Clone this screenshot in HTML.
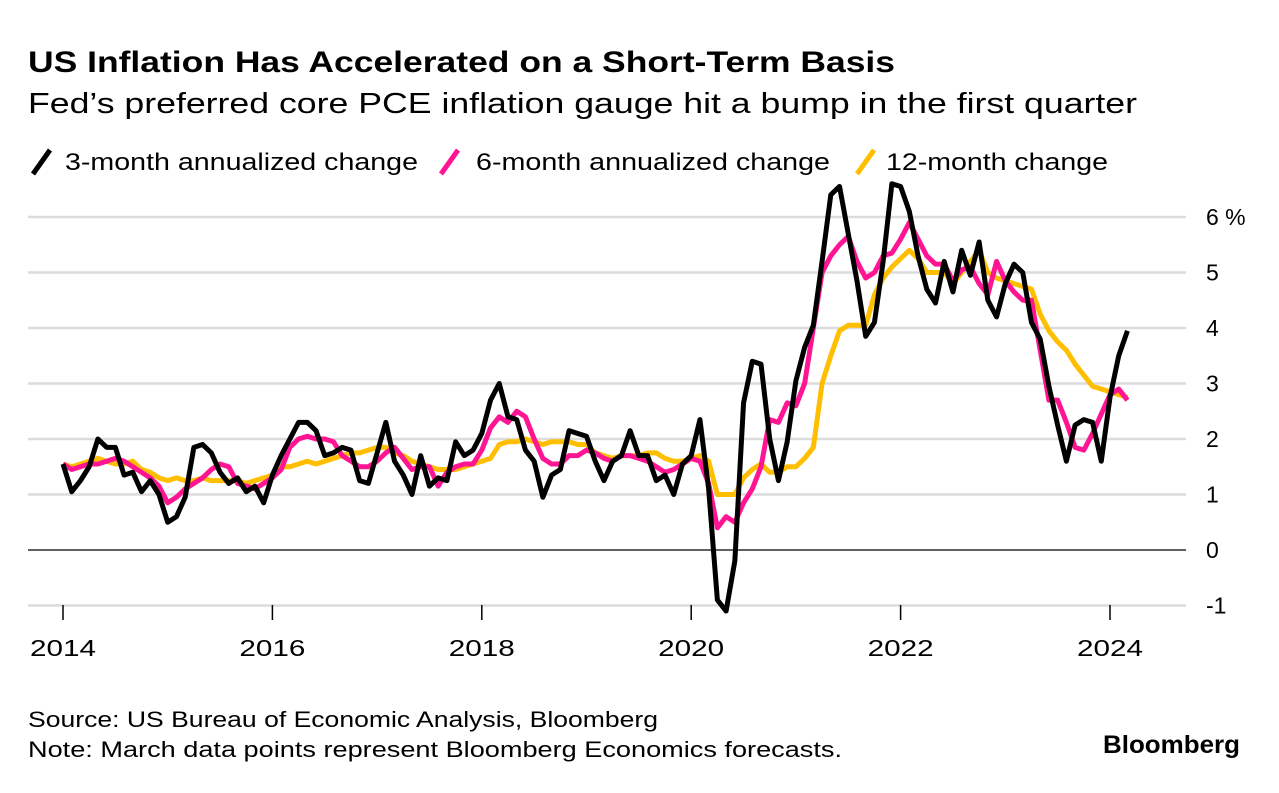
<!DOCTYPE html>
<html><head><meta charset="utf-8"><style>
body{margin:0;background:#fff;font-family:"Liberation Sans",sans-serif;}
svg text{font-family:"Liberation Sans",sans-serif;}
</style></head><body>
<svg id="chart" width="1279" height="788" xmlns="http://www.w3.org/2000/svg">
<text x="28" y="72" font-size="30" font-weight="bold" fill="#000" textLength="867" lengthAdjust="spacingAndGlyphs">US Inflation Has Accelerated on a Short-Term Basis</text>
<text x="28" y="113" font-size="29" fill="#000" textLength="1109" lengthAdjust="spacingAndGlyphs">Fed’s preferred core PCE inflation gauge hit a bump in the first quarter</text>
<g>
<g><line x1="33" y1="174" x2="50" y2="150" stroke="#000" stroke-width="5"/><text x="65" y="170" font-size="24" textLength="353" lengthAdjust="spacingAndGlyphs">3-month annualized change</text></g>
<g><line x1="441" y1="174" x2="458" y2="150" stroke="#ff1493" stroke-width="5"/><text x="476" y="170" font-size="24" textLength="354" lengthAdjust="spacingAndGlyphs">6-month annualized change</text></g>
<g><line x1="857" y1="174" x2="874" y2="150" stroke="#ffbf00" stroke-width="5"/><text x="886" y="170" font-size="24" textLength="222" lengthAdjust="spacingAndGlyphs">12-month change</text></g>
</g>
<g id="grid"></g><g id="series"></g><g id="xaxis"></g>
<text x="28" y="727" font-size="22" textLength="630" lengthAdjust="spacingAndGlyphs">Source: US Bureau of Economic Analysis, Bloomberg</text>
<text x="28" y="757" font-size="22" textLength="814" lengthAdjust="spacingAndGlyphs">Note: March data points represent Bloomberg Economics forecasts.</text>
<text x="1103" y="753" font-size="25" font-weight="bold" textLength="137" lengthAdjust="spacingAndGlyphs">Bloomberg</text>
</svg>
<script>
const yTicks=[-1,0,1,2,3,4,5,6];
const yTickLabels=["-1","0","1","2","3","4","5","6 %"];
const xYears=[2014,2016,2018,2020,2022,2024];
const threeMonth=[1.55,1.05,1.25,1.5,2.0,1.85,1.85,1.35,1.4,1.05,1.25,1.0,
0.5,0.6,0.95,1.85,1.9,1.75,1.4,1.2,1.3,1.05,1.15,0.85,
1.35,1.7,2.0,2.3,2.3,2.15,1.7,1.75,1.85,1.8,1.25,1.2,
1.75,2.3,1.6,1.35,1.0,1.7,1.15,1.3,1.25,1.95,1.7,1.8,
2.1,2.7,3.0,2.4,2.35,1.8,1.6,0.95,1.35,1.45,2.15,2.1,
2.05,1.6,1.25,1.6,1.7,2.15,1.7,1.7,1.25,1.35,1.0,1.55,
1.7,2.35,1.1,-0.9,-1.1,-0.2,2.65,3.4,3.35,2.0,1.25,1.95,
3.05,3.65,4.05,5.2,6.4,6.55,5.7,4.85,3.85,4.1,5.2,6.6,
6.55,6.1,5.3,4.7,4.45,5.2,4.65,5.4,4.95,5.55,4.5,4.2,
4.8,5.15,5.0,4.1,3.8,2.95,2.25,1.6,2.25,2.35,2.3,1.6,
2.75,3.5,3.95];
const sixMonth=[1.55,1.45,1.5,1.55,1.55,1.6,1.65,1.6,1.5,1.4,1.3,1.15,
0.85,0.95,1.1,1.2,1.3,1.45,1.55,1.5,1.2,1.15,1.1,1.2,
1.3,1.45,1.85,2.0,2.05,2.0,2.0,1.95,1.7,1.6,1.5,1.5,
1.6,1.75,1.85,1.65,1.45,1.5,1.5,1.15,1.4,1.5,1.55,1.55,
1.8,2.2,2.4,2.3,2.5,2.4,2.0,1.65,1.55,1.55,1.7,1.7,
1.8,1.75,1.65,1.6,1.7,1.7,1.65,1.6,1.5,1.4,1.45,1.55,
1.65,1.6,1.2,0.4,0.6,0.5,0.85,1.1,1.5,2.35,2.3,2.65,
2.6,3.0,4.0,5.0,5.3,5.5,5.65,5.2,4.9,5.0,5.3,5.35,
5.6,5.9,5.6,5.3,5.15,5.15,4.85,5.05,5.1,4.8,4.6,5.2,
4.85,4.65,4.5,4.5,3.6,2.7,2.7,2.3,1.85,1.8,2.1,2.45,
2.8,2.9,2.7];
const twelveMonth=[1.55,1.5,1.55,1.6,1.65,1.6,1.55,1.55,1.6,1.45,1.4,1.3,
1.25,1.3,1.25,1.25,1.3,1.25,1.25,1.25,1.25,1.2,1.25,1.3,
1.35,1.5,1.5,1.55,1.6,1.55,1.6,1.65,1.7,1.75,1.75,1.8,
1.85,1.85,1.75,1.7,1.6,1.55,1.5,1.45,1.45,1.45,1.5,1.55,
1.6,1.65,1.9,1.95,1.95,2.0,1.95,1.9,1.95,1.95,1.95,1.9,
1.9,1.75,1.7,1.65,1.7,1.7,1.7,1.75,1.75,1.65,1.6,1.6,
1.65,1.7,1.6,1.0,1.0,1.0,1.3,1.45,1.55,1.4,1.4,1.5,
1.5,1.65,1.85,3.0,3.5,3.95,4.05,4.05,4.05,4.6,4.9,5.1,
5.25,5.4,5.25,5.0,5.0,5.0,4.8,5.0,5.2,5.4,5.0,4.9,
4.85,4.8,4.75,4.7,4.25,3.95,3.75,3.6,3.35,3.15,2.95,2.9,
2.85,2.8,2.75];
const NS="http://www.w3.org/2000/svg";
const X=m=>63+m*(1110-63)/120;
const Y=v=>550-v*55.5;
function mk(tag,attrs,parent){const e=document.createElementNS(NS,tag);for(const k in attrs)e.setAttribute(k,attrs[k]);parent.appendChild(e);return e;}
const grid=document.getElementById('grid');
yTicks.forEach((t,i)=>{
  const l=mk('line',{x1:28,x2:1186,y1:Y(t),y2:Y(t),stroke:t===0?'#000':'#dcdcdc','stroke-width':t===0?1.2:2.5},grid);
  
  
  const tx=mk('text',{x:1206,y:Y(t)+8,'font-size':23},grid);tx.textContent=yTickLabels[i];
  
  
});
const xa=document.getElementById('xaxis');
xYears.forEach(yr=>{
  const m=(yr-2014)*12;
  const l=mk('line',{x1:X(m),x2:X(m),y1:605,y2:620,stroke:'#000','stroke-width':1.5},xa);
  
  
  const t=mk('text',{x:X(m)-33,y:656,'font-size':23,textLength:66,lengthAdjust:'spacingAndGlyphs'},xa);t.textContent=yr;
  
  
});
const sg=document.getElementById('series');
[[twelveMonth,'#ffbf00','series-12-month'],[sixMonth,'#ff1493','series-6-month'],[threeMonth,'#000','series-3-month']].forEach(([d,c,n])=>{
  const p=mk('polyline',{points:d.map((v,i)=>X(i)+','+Y(v)).join(' '),fill:'none',stroke:c,'stroke-width':5,'stroke-linejoin':'round'},sg);
  
  
});
</script>
</body></html>
